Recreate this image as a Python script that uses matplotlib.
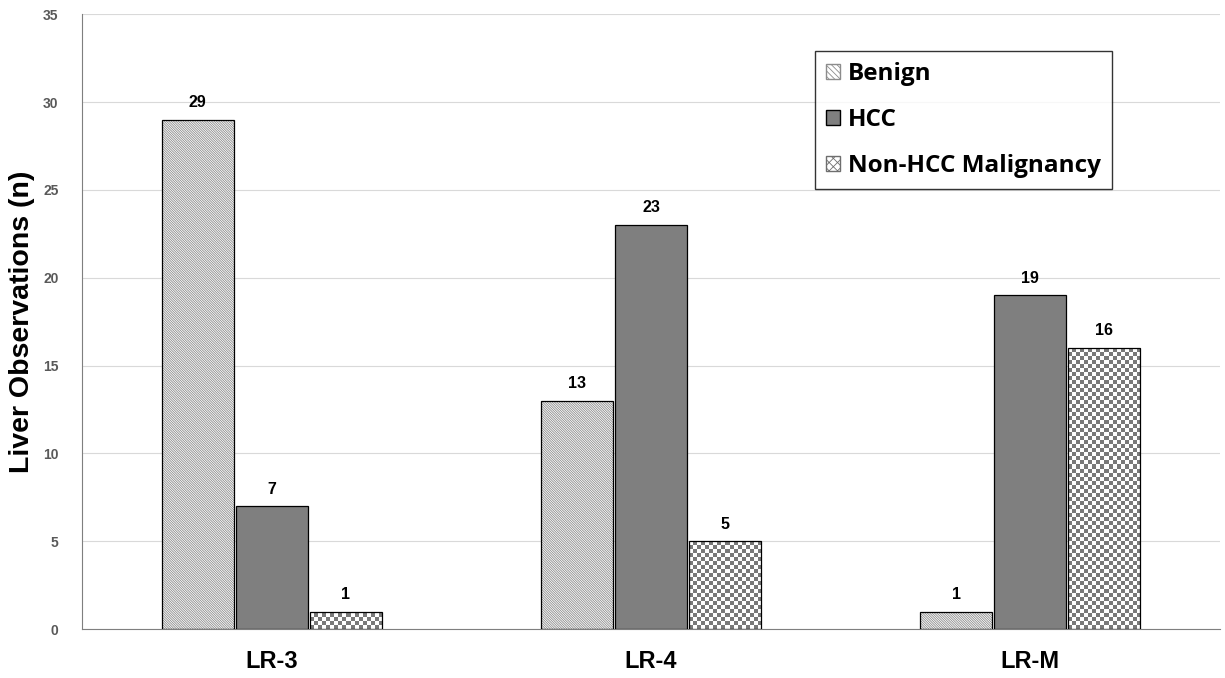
import numpy as np
import matplotlib
matplotlib.use('Agg')
import matplotlib.pyplot as plt
from matplotlib.patches import Patch

plt.rcParams['font.family'] = ['Liberation Sans', 'DejaVu Sans']
plt.rcParams['hatch.linewidth'] = 0.6

categories = ['LR-3', 'LR-4', 'LR-M']
series = ['Benign', 'HCC', 'Non-HCC Malignancy']
benign = [29, 13, 1]
hcc = [7, 23, 19]
non_hcc = [1, 5, 16]

values = [benign, hcc, non_hcc]

fig = plt.figure(figsize=(12.25, 6.78), dpi=100)
ax = fig.add_axes([0.067, 0.072, 0.929, 0.907])
ax.set_xlim(-0.5, 2.5)
ax.set_ylim(0, 35)

x = np.arange(len(categories))
width = 0.19
gap = 0.005
offsets = [-(width + gap), 0, width + gap]

# Benign: dense diagonal hatch
ax.bar(x + offsets[0], benign, width, color='white', edgecolor='#8c8c8c',
       hatch='\\' * 14, linewidth=0, zorder=2)
ax.bar(x + offsets[0], benign, width, fill=False, edgecolor='black', linewidth=0.9, zorder=3)

# HCC: solid gray
ax.bar(x + offsets[1], hcc, width, color='#7f7f7f', edgecolor='black', linewidth=0.9, zorder=3)

# Non-HCC: checkerboard fill clipped to each bar
checker_bars = ax.bar(x + offsets[2], non_hcc, width, color='white', edgecolor='none', zorder=2)
fig.canvas.draw()
px_per_x = ax.transData.transform((1, 0))[0] - ax.transData.transform((0, 0))[0]
px_per_y = ax.transData.transform((0, 1))[1] - ax.transData.transform((0, 0))[1]
sq = 4.0
for rect in checker_bars:
    x0, y0 = rect.get_x(), rect.get_y()
    w, h = rect.get_width(), rect.get_height()
    nx = int(np.ceil(w * px_per_x / sq))
    ny = int(np.ceil(h * px_per_y / sq))
    grid = (np.add.outer(np.arange(ny), np.arange(nx)) % 2).astype(float)
    ext = (x0, x0 + nx * sq / px_per_x, y0, y0 + ny * sq / px_per_y)
    im = ax.imshow(grid, extent=ext, origin='lower', cmap='gray', vmin=-0.9, vmax=1.0,
                   interpolation='nearest', aspect='auto', zorder=2.5)
    im.set_clip_path(rect)
ax.bar(x + offsets[2], non_hcc, width, fill=False, edgecolor='black', linewidth=0.9, zorder=3)
ax.set_xlim(-0.5, 2.5)
ax.set_ylim(0, 35)

for vals, off in zip(values, offsets):
    for xi, v in zip(x + off, vals):
        ax.text(xi, v + 0.55, str(v), ha='center', va='bottom', fontsize=11.5, fontweight='bold')

ax.set_yticks(range(0, 36, 5))
ax.set_xticks(x)
ax.set_xticklabels(categories, fontsize=17, fontweight='bold')
for lab in ax.get_yticklabels():
    lab.set_fontsize(10)
    lab.set_fontweight('bold')
    lab.set_color('#595959')
ax.tick_params(axis='both', length=0)
ax.tick_params(axis='x', pad=15)
ax.tick_params(axis='y', pad=17)
ax.set_ylabel('Liver Observations (n)', fontsize=20.5, fontweight='bold', labelpad=6)

ax.yaxis.grid(True, color='#d9d9d9', linewidth=0.8, zorder=0)
ax.set_axisbelow(True)
for s in ['top', 'right']:
    ax.spines[s].set_visible(False)
ax.spines['left'].set_color('#7f7f7f')
ax.spines['bottom'].set_color('#7f7f7f')

handles = [
    Patch(facecolor='white', edgecolor='#8c8c8c', hatch='\\' * 6, label='Benign'),
    Patch(facecolor='#7f7f7f', edgecolor='black', label='HCC'),
    Patch(facecolor='white', edgecolor='#6e6e6e', hatch='xxxx', label='Non-HCC Malignancy'),
]
leg = ax.legend(handles=handles, loc='upper left', bbox_to_anchor=(0.644, 0.940),
                prop={'size': 17.5, 'weight': 'bold', 'family': 'Open Sans'}, frameon=True,
                fancybox=False, edgecolor='black', handlelength=0.6, handleheight=0.6,
                handletextpad=0.3, labelspacing=0.9, borderpad=0.45, borderaxespad=0)
leg.get_frame().set_linewidth(1.0)

fig.savefig('out.png', dpi=100)
